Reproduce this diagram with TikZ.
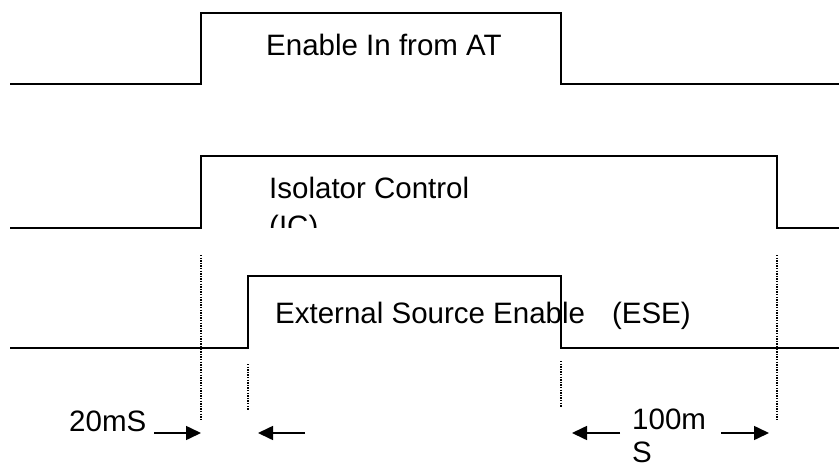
\documentclass[tikz,border=0pt]{standalone}
\usepackage{fontspec}
\setmainfont{Liberation Sans}
\usetikzlibrary{arrows.meta,positioning}
\tikzset{
  wave/.style={line width=1.5pt},
  edge mark/.style={line width=1.5pt, dash pattern=on 1.4pt off 1.2pt},
  gap arrow/.style={line width=1.6pt, -{Triangle[length=15pt,width=14pt]}},
  sig label/.style={anchor=base west, inner sep=0pt, font=\fontsize{29.5}{34}\selectfont},
}

\begin{document}
\begin{tikzpicture}[x=1pt,y=-1pt]
\useasboundingbox (0,0) rectangle (839,466);

% signal names
\node[sig label] (enin) at (266,55) {Enable In from AT};
\node[sig label] (isoc) at (269,198) {Isolator Control};
\begin{scope}
  \clip (0,0) rectangle (839,227);
  \node[sig label] (isotag) at (269,236.5) {(IC)};
\end{scope}
\node[sig label] (ese) at (275,323) {External Source Enable\hspace*{27pt}(ESE)};

% waveforms
\draw[wave] (10,84) -- (201,84) -- (201,13) -- (561,13) -- (561,84) -- (839,84);
\draw[wave] (10,228) -- (201,228) -- (201,156) -- (777,156) -- (777,228) -- (839,228);
\draw[wave] (10,348) -- (248,348) -- (248,276) -- (561,276) -- (561,348) -- (839,348);

% edge markers
\draw[edge mark] (201,255) -- (201,421);
\draw[edge mark] (248,364) -- (248,410);
\draw[edge mark] (561,361) -- (561,407);
\draw[edge mark] (777,255) -- (777,421);

% delays
\foreach \t/\h [count=\i] in {154/201, 305/258, 620/572, 721/769} {
  \coordinate (tail\i) at (\t,433);
  \coordinate (head\i) at (\h,433);
  \draw[gap arrow] (tail\i) -- (head\i);
}
\node[sig label] (dly20) at (69,431) {20mS};
\node[sig label] (dly100) at (632,429) {100m};
\node[sig label, text depth=0pt, below=33pt of dly100.base west, anchor=base west] (dly100s) {S};
\end{tikzpicture}
\end{document}
